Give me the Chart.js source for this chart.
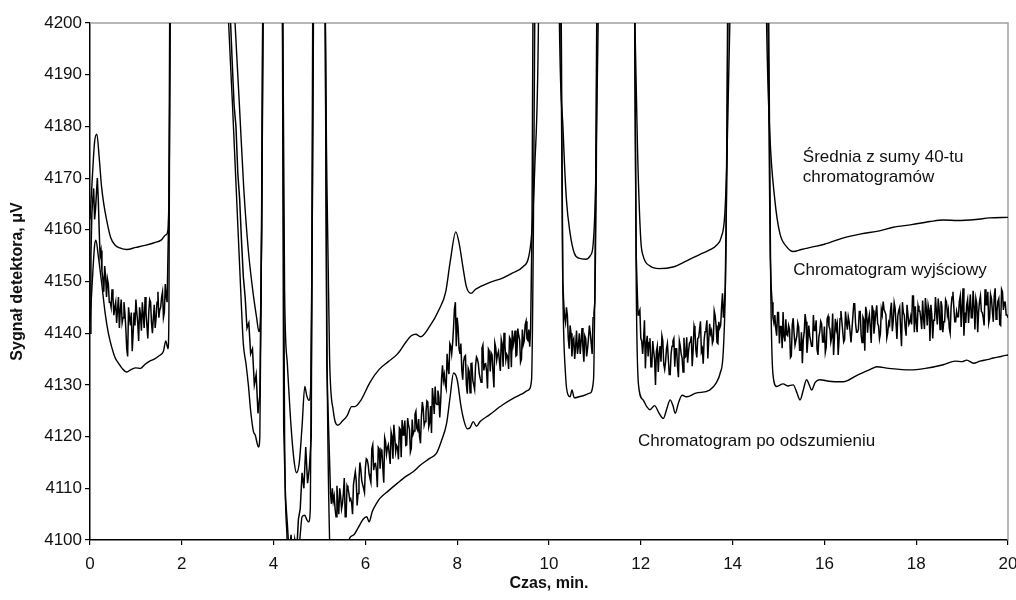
<!DOCTYPE html>
<html lang="pl">
<head>
    <meta charset="UTF-8">
    <title>Chromatogram</title>
    <script src="https://cdn.jsdelivr.net/npm/chart.js@4.4.0/dist/chart.umd.min.js"></script>
    <style>
        body { margin: 0; background: #fff; }
        #wrap { width: 1016px; height: 600px; }
    </style>
</head>
<body>
<div id="wrap"><canvas id="chartCanvas" width="1016" height="600"></canvas></div>
<script>
// axis ticks
const xTicks = [0, 2, 4, 6, 8, 10, 12, 14, 16, 18, 20];
const yTicks = [4100, 4110, 4120, 4130, 4140, 4150, 4160, 4170, 4180, 4190, 4200];

// "Średnia z sumy 40-tu chromatogramów" (upper smooth line)
const sredniaX = [0, 0.05, 0.1, 0.15, 0.2, 0.25, 0.3, 0.36, 0.45, 0.55, 0.65, 0.8, 1.0, 1.2, 1.4, 1.55, 1.65, 1.70, 1.73, 1.76, 2.4,
    3.10, 3.16, 3.25, 3.35, 3.45, 3.55, 3.63, 3.68, 3.71, 3.74, 3.78, 4.0, 4.2, 4.24, 4.3, 4.38, 4.45, 4.5, 4.56, 4.62, 4.68, 4.72, 4.77, 4.81, 4.85, 4.88, 5.0,
    5.12, 5.16, 5.22, 5.3, 5.4, 5.5, 5.6, 5.7, 5.77, 5.9, 6.1, 6.3, 6.5, 6.7, 6.9, 7.0, 7.1, 7.2, 7.4, 7.6, 7.75, 7.85, 7.97, 8.05, 8.13, 8.2, 8.3, 8.4, 8.5, 8.7,
    9.0, 9.2, 9.44, 9.55, 9.62, 9.69, 9.77, 10.0, 10.22, 10.31, 10.38, 10.46, 10.55, 10.65, 10.8, 10.9, 10.96, 11.02, 11.08, 11.45,
    11.86, 11.93, 12.0, 12.05, 12.2, 12.4, 12.7, 13.0, 13.3, 13.5, 13.65, 13.75, 13.83, 13.88, 13.94, 14.0, 14.35,
    14.74, 14.81, 14.92, 15.03, 15.18, 15.32, 15.5, 15.7, 16.0, 16.4, 16.8, 17.2, 17.5, 17.9, 18.3, 18.6, 18.9, 19.3, 19.6, 20.0];
const sredniaY = [4162, 4170, 4177, 4178.5, 4174, 4168.5, 4165, 4162, 4158.5, 4157, 4156.5, 4156.2, 4156.6, 4157, 4157.5, 4158, 4159, 4160, 4175, 4220, 4600,
    4212, 4200, 4185, 4168, 4156, 4148, 4143, 4140.3, 4142, 4160, 4210, 4500, 4205, 4148, 4134, 4122, 4115, 4113, 4115, 4122, 4129.7, 4128, 4127, 4130, 4170, 4220, 4500,
    4210, 4170, 4135, 4125, 4122.2, 4123, 4124, 4125.8, 4125.8, 4127, 4130.5, 4133, 4134.5, 4136, 4138.5, 4139.5, 4139.8, 4139.3, 4141.3, 4144.5, 4148, 4154, 4159.6, 4157, 4152.5, 4149, 4147.7, 4148.5, 4149, 4149.8,
    4150.7, 4151.6, 4152.9, 4154.5, 4159, 4172, 4200, 4500, 4205, 4178.7, 4165.8, 4159.3, 4155.5, 4154.5, 4154.3, 4155, 4157, 4170, 4205, 4500,
    4205, 4175, 4158, 4155, 4153, 4152.5, 4152.8, 4154, 4155.3, 4156.1, 4157, 4158.5, 4163, 4175, 4200, 4240, 4500,
    4200, 4178.7, 4165.8, 4159.3, 4156.7, 4155.8, 4156.2, 4156.6, 4157.2, 4158.4, 4159.2, 4159.8, 4160.5, 4161, 4161.6, 4161.9, 4161.8, 4162, 4162.3, 4162.4];

// "Chromatogram po odszumieniu" (lower smooth line)
const odszX = [0, 0.05, 0.1, 0.13, 0.18, 0.25, 0.33, 0.4, 0.47, 0.55, 0.62, 0.7, 0.8, 0.9, 1.0, 1.1, 1.2, 1.3, 1.4, 1.5, 1.6, 1.65, 1.7, 1.72, 1.75, 2.4,
    2.98, 3.02, 3.1, 3.2, 3.27, 3.34, 3.4, 3.45, 3.5, 3.56, 3.6, 3.67, 3.7, 3.73, 3.77, 4.0,
    4.19, 4.24, 4.29, 4.33, 4.5, 4.58, 4.62, 4.68, 4.72, 4.76, 4.8, 4.84, 4.87, 5.0,
    5.12, 5.16, 5.22, 5.3, 5.5, 5.6, 5.66, 5.75, 5.85, 5.95, 6.03, 6.08, 6.15, 6.25, 6.32, 6.5, 6.7, 6.9, 7.04, 7.2, 7.4, 7.55, 7.65, 7.77, 7.85, 7.92,
    8.0, 8.08, 8.15, 8.22, 8.28, 8.35, 8.42, 8.5, 8.7, 9.0, 9.2, 9.4, 9.55, 9.62, 9.66, 9.70, 9.95,
    10.25, 10.3, 10.36, 10.42, 10.46, 10.5, 10.55, 10.7, 10.89, 10.97, 11.01, 11.05, 11.45,
    11.86, 11.9, 11.95, 12.05, 12.13, 12.2, 12.3, 12.4, 12.49, 12.57, 12.64, 12.7, 12.75, 12.82, 12.9, 13.0, 13.2, 13.5, 13.65, 13.73, 13.8, 13.86, 13.9, 14.35,
    14.78, 14.83, 14.88, 14.96, 15.1, 15.2, 15.32, 15.4, 15.47, 15.54, 15.61, 15.67, 15.72, 15.8, 15.9, 16.1, 16.41, 16.7, 17.0, 17.14, 17.4, 17.86,
    18.2, 18.59, 18.85, 19.0, 19.1, 19.25, 19.39, 19.55, 19.68, 19.85, 20.0];
const odszY = [4142, 4150, 4157, 4158, 4155, 4150, 4143.9, 4140, 4137.4, 4135.2, 4134.2, 4133.2, 4132.5, 4133, 4133.3, 4133.2, 4134, 4134.6, 4135, 4135.6, 4136.5, 4138.5, 4137, 4145, 4220, 4600,
    4210, 4200, 4185, 4165, 4151, 4138, 4134, 4130, 4125, 4121, 4120.3, 4118, 4120, 4150, 4215, 4500,
    4210, 4120, 4101, 4095, 4093, 4101, 4104.5, 4104.8, 4104, 4103.5, 4106, 4160, 4215, 4500,
    4210, 4140, 4100, 4090, 4092, 4098, 4100.4, 4101, 4102.5, 4104, 4104.5, 4103.5, 4105.5, 4107.2, 4108.1, 4109.5, 4111, 4112.4, 4113.2, 4114.5, 4115.8, 4116.8, 4119, 4122.6, 4128, 4132.3,
    4131, 4126, 4123, 4121.5, 4121.7, 4122.9, 4122, 4122.9, 4124.2, 4126.2, 4127.3, 4128.2, 4129, 4131, 4160, 4215, 4500,
    4210, 4150, 4132, 4128, 4127.7, 4129, 4127.5, 4127.8, 4128.4, 4131, 4160, 4215, 4500,
    4210, 4150, 4130, 4127.1, 4125.8, 4125.2, 4126, 4124.5, 4123.5, 4125.5, 4127.1, 4126, 4124.5, 4126.5, 4128, 4127.7, 4128.4, 4129, 4130.5, 4132.3, 4137, 4160, 4215, 4500,
    4210, 4150, 4132, 4129.7, 4130.2, 4129.8, 4130, 4128.5, 4127.1, 4129, 4131, 4130, 4129, 4130.5, 4131, 4130.7, 4130.6, 4131.8, 4133, 4133.5, 4133.2, 4132.9,
    4133.2, 4133.9, 4134.6, 4134.5, 4134.8, 4134.2, 4134.6, 4134.9, 4135.2, 4135.5, 4135.8];

// "Chromatogram wyjściowy" (noisy raw line): baseline stretches read every 0.04 min,
// the *Mid lists hold the readings half-way between them (0.02 min later)
const wyjStep = 0.04;
const wyjSeg1Start = 0.00;
const wyjSeg1 = [4140, 4163, 4168, 4164, 4170, 4160, 4156, 4150.5, 4153, 4147, 4149.5, 4146, 4148.5, 4143.5, 4146, 4144.5, 4141, 4146.5, 4143, 4144,
    4137, 4145, 4141.5, 4136.5, 4144, 4146.5, 4142, 4145, 4140.5, 4143.5, 4147, 4141.5, 4144, 4146, 4140, 4145.5, 4143, 4148, 4144.5, 4147,
    4143, 4149.5, 4146];
const wyjSeg1Mid = [4155, 4166, 4162, 4167, 4166, 4155, 4152, 4148, 4151, 4150.5, 4146, 4145, 4147, 4145, 4142, 4147, 4144.5, 4142, 4146, 4141,
    4135.5, 4143, 4144, 4140, 4141.5, 4144, 4138.5, 4143.5, 4146, 4141, 4144, 4139, 4146.5, 4142, 4143, 4141, 4146, 4143, 4145, 4148,
    4144, 4147];
const wyjSeg2Start = 3.10;
const wyjSeg2 = [4192, 4184, 4180, 4171, 4166, 4158, 4151, 4147, 4141, 4142, 4136, 4137, 4130, 4132, 4124.5, 4128];
const wyjSeg2Mid = [];
const wyjSeg3Start = 4.22;
const wyjSeg3 = [4122, 4108, 4103, 4097, 4101, 4096, 4100, 4097, 4104, 4106, 4113, 4110, 4118, 4111, 4114, 4120];
const wyjSeg3Mid = [];
const wyjSeg4Start = 5.16;
const wyjSeg4 = [4134, 4121, 4109, 4110, 4108.5, 4104.5, 4107, 4110, 4106, 4109, 4104.5, 4110.5, 4109, 4108, 4105, 4112, 4111.5, 4109, 4115, 4111.5,
    4110, 4114, 4115.5, 4112.8, 4111.1, 4118.4, 4114.7, 4113.5, 4117.9, 4113.8, 4117.2, 4111.1, 4119, 4117.8, 4116.6, 4120.9, 4115.7, 4120, 4118.3, 4115.6,
    4121.4, 4123.2, 4121.5, 4118.3, 4123.6, 4121.4, 4117.7, 4120.5, 4124.3, 4121.6, 4123.4, 4118.7, 4126.7, 4122.2, 4124.7, 4126.7, 4122.7, 4120.7, 4127.2, 4129.7,
    4126.2, 4127.7, 4126.8, 4133.8, 4132, 4129.3, 4133.3, 4138, 4136, 4141, 4146, 4143, 4137, 4138, 4131, 4135.5, 4130, 4133.2, 4128.5, 4134.2,
    4130, 4133.8, 4135, 4132.2, 4130.5, 4137.7, 4134, 4132.7, 4136.9, 4132.6, 4135.8, 4129.5, 4137.2, 4135.9, 4134.6, 4138.8, 4133.5, 4137.7, 4135.9, 4133.1,
    4138.8, 4140.5, 4138.8, 4135.6, 4140.9, 4138.7, 4135, 4137.8, 4141.6, 4138.9, 4140.7, 4141];
const wyjSeg4Mid = [4127, 4115, 4107, 4107.5, 4106, 4110.5, 4105, 4108.5, 4107, 4112, 4104.5, 4110, 4107.7, 4107.2, 4110.7, 4113.2, 4106.7, 4111.7, 4113.7, 4110.7,
    4109.2, 4115.7, 4114.6, 4111.9, 4117.7, 4113.5, 4114.8, 4110.2, 4117.6, 4117.5, 4113.9, 4119.8, 4116.6, 4118.4, 4114.7, 4120, 4122.3, 4117.1, 4117.9, 4121.7,
    4116, 4120.3, 4123.1, 4118.4, 4122.2, 4117, 4123.3, 4121.1, 4124.9, 4121.2, 4120, 4123.9, 4125.4, 4122.9, 4126.9, 4121.9, 4125.9, 4129.4, 4124.4, 4126.4,
    4128.9, 4123.7, 4131.3, 4130.9, 4130.1, 4136, 4132.1, 4137.5, 4138, 4144.7, 4137.5, 4141, 4136, 4133, 4134.5, 4135.7, 4128.3, 4132.6, 4134.1, 4130.8,
    4129.1, 4135.4, 4134.1, 4131.3, 4137.1, 4132.8, 4134.1, 4129.3, 4136.5, 4136.2, 4132.4, 4138.1, 4134.8, 4136.5, 4132.7, 4137.9, 4140.1, 4134.8, 4135.5, 4139.2,
    4133.4, 4137.7, 4140.5, 4135.8, 4139.6, 4134.4, 4140.7, 4138.5, 4142.3, 4138.6, 4137.4];
const wyjSeg5Start = 10.32;
const wyjSeg5 = [4146, 4142, 4143.5, 4137, 4140, 4138.5, 4135, 4140.5, 4137.5, 4136, 4141, 4134.5, 4139, 4137, 4141.5, 4138, 4143, 4146];
const wyjSeg5Mid = [4143, 4145, 4139, 4141.5, 4135.5, 4139, 4137.5, 4136, 4140, 4138.5, 4137, 4139.5, 4135.5, 4139, 4140, 4136, 4144];
const wyjSeg6Start = 11.92;
const wyjSeg6 = [4149, 4144, 4139, 4136, 4142.5, 4138, 4135.5, 4139, 4133.5, 4136.5, 4130, 4137.5, 4136, 4134.5, 4138.5, 4133, 4137, 4135, 4132, 4137.5,
    4139, 4137, 4133.5, 4138.5, 4136, 4132.5, 4135.3, 4139.2, 4136.5, 4138.3, 4133.6, 4141.4, 4136.7, 4139, 4140.7, 4136.4, 4134.1, 4140.3, 4142.5, 4138.7,
    4139.9, 4138.1, 4144.3, 4141.5, 4138, 4141, 4145, 4143, 4149];
const wyjSeg6Mid = [4143.5, 4144.5, 4138.5, 4138.7, 4133.2, 4139.5, 4138.2, 4133.5, 4138.5, 4135, 4136.5, 4132.5, 4137.5, 4139.5, 4134, 4134.5, 4138, 4132, 4136, 4138.5,
    4133.5, 4137, 4131.5, 4137.5, 4135.2, 4139.1, 4135.5, 4134.3, 4138.1, 4139.4, 4136.7, 4140.5, 4135.3, 4139.1, 4142.3, 4137, 4138.7, 4140.9, 4135.1, 4141.8,
    4140.5, 4138.7, 4143.4, 4138.2, 4142.2, 4141.5, 4147.7, 4145];
const wyjSeg7Start = 14.84;
const wyjSeg7 = [4149, 4143, 4143.5, 4139.5, 4144, 4141.3, 4137.1, 4139.4, 4142.7, 4139.5, 4140.8, 4135.6, 4142.9, 4137.7, 4139.5, 4141.2, 4136.7, 4134.2, 4140.2, 4142.2,
    4138.5, 4139.5, 4137.5, 4143.5, 4140.5, 4136.8, 4139.3, 4142.3, 4138.3, 4141.3, 4137.3, 4143.3, 4140.8, 4139.3, 4135.8, 4142.8, 4141.8, 4138.8, 4144.3, 4140.3,
    4138.7, 4142.2, 4143.2, 4140.2, 4138.2, 4145.7, 4141.7, 4140.2, 4144.2, 4139.7, 4143.1, 4136.6, 4144.1, 4142.6, 4141.1, 4145.4, 4139.9, 4143.9, 4141.9, 4138.9,
    4144.6, 4146.1, 4144.6, 4139.1, 4142.1, 4144.4, 4140.4, 4145.9, 4141.9, 4143.4, 4145, 4137.5, 4144, 4141, 4145.5, 4141.7, 4143.2, 4147.2, 4140.2, 4142.2,
    4145.3, 4144.3, 4140.8, 4142.8, 4146.8, 4141.5, 4144.5, 4145.5, 4139, 4142.5, 4144.2, 4146.7, 4140.7, 4145.2, 4142.2, 4146.5, 4143.5, 4141, 4145, 4148,
    4142.2, 4144.2, 4143.2, 4147.2, 4145.2, 4139.5, 4142, 4146.5, 4145, 4143, 4148.2, 4140.7, 4145.7, 4144.2, 4147.2, 4144, 4141.5, 4145.5, 4148, 4143,
    4146.7, 4142.2, 4148.7, 4144.2, 4146.7, 4141.5, 4148, 4146, 4143.5, 4143];
const wyjSeg7Mid = [4146, 4142, 4141, 4144, 4138, 4141.3, 4144.1, 4138.4, 4139.7, 4141.5, 4135.3, 4141.6, 4139.9, 4137.7, 4142, 4136.7, 4140.2, 4138.7, 4143.7, 4136.2,
    4141.5, 4138.5, 4137.5, 4140.5, 4142.5, 4135.8, 4140.3, 4141.8, 4138.3, 4136.3, 4142.8, 4141.3, 4138.3, 4143.8, 4139.3, 4140.8, 4135.8, 4142.8, 4142.3, 4138.3,
    4144.2, 4140.7, 4142.2, 4138.2, 4143.2, 4145.7, 4140.2, 4140.7, 4144.2, 4138.2, 4142.6, 4145.1, 4140.1, 4143.6, 4138.1, 4144.4, 4141.9, 4145.4, 4141.4, 4139.9,
    4143.6, 4144.6, 4143.6, 4140.1, 4141.6, 4145.9, 4142.4, 4144.9, 4138.9, 4144.4, 4141, 4146, 4143.5, 4139.5, 4145.5, 4142.2, 4141.7, 4147.2, 4145.2, 4140.2,
    4144.3, 4142.8, 4146.3, 4140.8, 4144.8, 4145.5, 4138.5, 4143.5, 4142.5, 4147, 4141.7, 4144.7, 4146.2, 4140.2, 4142.2, 4146, 4144.5, 4140, 4147, 4145,
    4142.2, 4143.2, 4146.2, 4141.2, 4148.7, 4144, 4145.5, 4142, 4147.5, 4143, 4145.2, 4146.7, 4140.2, 4146.2, 4144.2, 4143, 4148.5, 4145.5, 4142, 4147.5,
    4144.2, 4147.2, 4142.7, 4146.2, 4141.7, 4148.5, 4144.5, 4146, 4143.5];
// peaks of the raw line between the baseline stretches
const wyjPeak1X = [1.72, 1.75, 2.4, 3.04];
const wyjPeak1Y = [4165, 4230, 4600, 4205];
const wyjPeak2X = [3.74, 3.77, 4.0, 4.19];
const wyjPeak2Y = [4160, 4210, 4500, 4210];
const wyjPeak3X = [4.86, 5.0, 5.12];
const wyjPeak3Y = [4220, 4450, 4210];
const wyjPeak4X = [9.63, 9.66, 9.95, 10.26, 10.3];
const wyjPeak4Y = [4160, 4220, 4500, 4210, 4150];
const wyjPeak5X = [11.03, 11.06, 11.45, 11.86, 11.9];
const wyjPeak5Y = [4170, 4230, 4500, 4210, 4155];
const wyjPeak6X = [13.88, 13.92, 14.35, 14.76, 14.82];
const wyjPeak6Y = [4175, 4230, 4500, 4210, 4155];

// annotation texts (placed in data coordinates)
const noteTexts = ['Średnia z sumy 40-tu', 'chromatogramów', 'Chromatogram wyjściowy', 'Chromatogram po odszumieniu'];
const noteX = [15.53, 15.53, 15.32, 11.94];
const noteY = [4174.1, 4170.2, 4152.2, 4119.0];

function pairs(xs, ys) {
    return xs.map((x, i) => ({ x: x, y: ys[i] }));
}
// one baseline stretch: readings on the 0.04 grid, with the half-way readings slotted in between
function stretch(x0, ys, mids) {
    const out = [];
    ys.forEach((y, i) => {
        out.push({ x: +(x0 + i * wyjStep).toFixed(3), y: y });
        if (i < mids.length) out.push({ x: +(x0 + (i + 0.5) * wyjStep).toFixed(3), y: mids[i] });
    });
    return out;
}

const wyjPoints = [].concat(
    stretch(wyjSeg1Start, wyjSeg1, wyjSeg1Mid), pairs(wyjPeak1X, wyjPeak1Y),
    stretch(wyjSeg2Start, wyjSeg2, wyjSeg2Mid), pairs(wyjPeak2X, wyjPeak2Y),
    stretch(wyjSeg3Start, wyjSeg3, wyjSeg3Mid), pairs(wyjPeak3X, wyjPeak3Y),
    stretch(wyjSeg4Start, wyjSeg4, wyjSeg4Mid), pairs(wyjPeak4X, wyjPeak4Y),
    stretch(wyjSeg5Start, wyjSeg5, wyjSeg5Mid), pairs(wyjPeak5X, wyjPeak5Y),
    stretch(wyjSeg6Start, wyjSeg6, wyjSeg6Mid), pairs(wyjPeak6X, wyjPeak6Y),
    stretch(wyjSeg7Start, wyjSeg7, wyjSeg7Mid)
);

const FONT = '"Liberation Sans", Arial, sans-serif';

// grey top/right frame and the text notes
const framePlugin = {
    id: 'framePlugin',
    beforeDatasetsDraw(chart) {
        const { ctx, chartArea: a } = chart;
        ctx.save();
        ctx.strokeStyle = '#a0a0a0';
        ctx.lineWidth = 1.5;
        ctx.beginPath();
        ctx.moveTo(a.left, a.top);
        ctx.lineTo(a.right, a.top);
        ctx.lineTo(a.right, a.bottom);
        ctx.stroke();
        ctx.restore();
    },
    afterDatasetsDraw(chart) {
        const { ctx, scales: { x, y } } = chart;
        ctx.save();
        ctx.fillStyle = '#111';
        ctx.font = '17px ' + FONT;
        ctx.textBaseline = 'middle';
        ctx.textAlign = 'left';
        noteTexts.forEach((t, i) => {
            ctx.fillText(t, x.getPixelForValue(noteX[i]), y.getPixelForValue(noteY[i]));
        });
        ctx.restore();
    }
};

const lineStyle = {
    borderColor: '#000',
    borderWidth: 1.4,
    pointRadius: 0,
    fill: false,
    showLine: true
};

new Chart(document.getElementById('chartCanvas'), {
    type: 'scatter',
    data: {
        datasets: [
            Object.assign({ label: 'Średnia z sumy 40-tu chromatogramów', data: pairs(sredniaX, sredniaY), cubicInterpolationMode: 'monotone' }, lineStyle),
            Object.assign({}, lineStyle, { label: 'Chromatogram wyjściowy', data: wyjPoints, tension: 0, borderWidth: 1.5 }),
            Object.assign({ label: 'Chromatogram po odszumieniu', data: pairs(odszX, odszY), cubicInterpolationMode: 'monotone' }, lineStyle)
        ]
    },
    options: {
        responsive: false,
        animation: false,
        layout: { padding: { left: 0, top: 23, right: 8, bottom: 0 } },
        plugins: {
            legend: { display: false },
            tooltip: { enabled: false }
        },
        scales: {
            x: {
                type: 'linear',
                min: 0,
                max: 20,
                afterBuildTicks: s => { s.ticks = xTicks.map(v => ({ value: v })); },
                afterFit: s => { s.height = 60; s.paddingLeft = 0; s.paddingRight = 0; },
                border: { color: '#000', width: 1.5 },
                grid: { drawOnChartArea: false, color: '#000', lineWidth: 1.2, tickLength: 5 },
                ticks: { color: '#111', padding: 9, font: { family: FONT, size: 17 }, callback: v => String(v) },
                title: { display: true, text: 'Czas, min.', color: '#111', font: { family: FONT, size: 16, weight: 'bold' }, padding: { top: 0, bottom: 7 } }
            },
            y: {
                type: 'linear',
                min: 4100,
                max: 4200,
                afterBuildTicks: s => { s.ticks = yTicks.map(v => ({ value: v })); },
                afterFit: s => { s.width = 90; s.paddingTop = 0; s.paddingBottom = 0; },
                border: { color: '#000', width: 1.5 },
                grid: { drawOnChartArea: false, color: '#000', lineWidth: 1.2, tickLength: 5 },
                ticks: { color: '#111', padding: 3, font: { family: FONT, size: 17 }, callback: v => String(v) },
                title: { display: true, text: 'Sygnał detektora, μV', color: '#111', font: { family: FONT, size: 16, weight: 'bold' }, padding: { top: 8, bottom: 0 } }
            }
        }
    },
    plugins: [framePlugin]
});
</script>
</body>
</html>
